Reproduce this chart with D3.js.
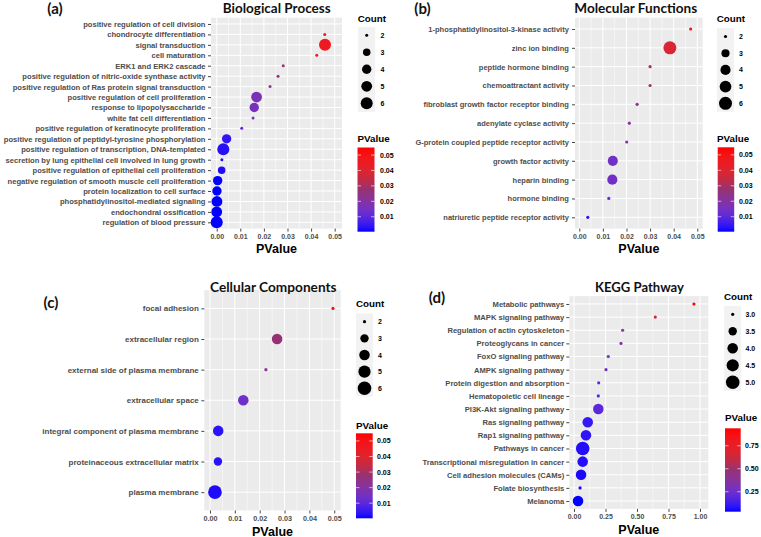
<!DOCTYPE html>
<html><head><meta charset="utf-8">
<script src="https://cdn.jsdelivr.net/npm/d3@7"></script>
<style>body{margin:0;background:#fff}svg{display:block}</style>
</head><body>
<svg id="c" width="761" height="537"></svg>
<script>
// ---------------- DATA ----------------
const bpTerms = ["positive regulation of cell division","chondrocyte differentiation","signal transduction","cell maturation","ERK1 and ERK2 cascade","positive regulation of nitric-oxide synthase activity","positive regulation of Ras protein signal transduction","positive regulation of cell proliferation","response to lipopolysaccharide","white fat cell differentiation","positive regulation of keratinocyte proliferation","positive regulation of peptidyl-tyrosine phosphorylation","positive regulation of transcription, DNA-templated","secretion by lung epithelial cell involved in lung growth","positive regulation of epithelial cell proliferation","negative regulation of smooth muscle cell proliferation","protein localization to cell surface","phosphatidylinositol-mediated signaling","endochondral ossification","regulation of blood pressure"];
const bpPValue = [null,0.0458,0.0459,0.0424,0.0282,0.0260,0.0226,0.0169,0.0159,0.0154,0.0106,0.0042,0.0028,0.0022,0.0021,0.0004,0.0001,0.0001,0.0000,0.0000];
const bpCount  = [null,2,6,2,2,2,2,5,4,2,2,4,6,2,3,4,4,5,5,6];

const mfTerms = ["1-phosphatidylinositol-3-kinase activity","zinc ion binding","peptide hormone binding","chemoattractant activity","fibroblast growth factor receptor binding","adenylate cyclase activity","G-protein coupled peptide receptor activity","growth factor activity","heparin binding","hormone binding","natriuretic peptide receptor activity"];
const mfPValue = [0.0472,0.0384,0.0300,0.0300,0.0245,0.0212,0.0201,0.0142,0.0140,0.0125,0.0036];
const mfCount  = [2,6,2,2,2,2,2,4,4,2,2];

const ccTerms = ["focal adhesion","extracellular region","external side of plasma membrane","extracellular space","integral component of plasma membrane","proteinaceous extracellular matrix","plasma membrane"];
const ccPValue = [0.0495,0.0270,0.0225,0.0134,0.0033,0.0032,0.0020];
const ccCount  = [2,4,2,4,4,3,6];

const keggTerms = ["Metabolic pathways","MAPK signaling pathway","Regulation of actin cytoskeleton","Proteoglycans in cancer","FoxO signaling pathway","AMPK signaling pathway","Protein digestion and absorption","Hematopoietic cell lineage","PI3K-Akt signaling pathway","Ras signaling pathway","Rap1 signaling pathway","Pathways in cancer","Transcriptional misregulation in cancer","Cell adhesion molecules (CAMs)","Folate biosynthesis","Melanoma"];
const keggPValue = [0.952,0.645,0.386,0.373,0.272,0.254,0.196,0.193,0.193,0.109,0.095,0.069,0.069,0.056,0.048,0.032];
const keggCount  = [3,3,3,3,3,3,3,3,4,4,4,5,4,4,3,4];

// axis / legend tick labels
const goXTicks = [0,0.01,0.02,0.03,0.04,0.05];
const keggXTicks = [0,0.25,0.5,0.75,1.0];
const goColorTicks = [0.01,0.02,0.03,0.04,0.05];
const keggColorTicks = [0.25,0.5,0.75];
const goCountBreaks = [2,3,4,5,6];
const keggCountBreaks = [3.0,3.5,4.0,4.5,5.0];
const goColorDomain = [0.0003,0.0549];
const keggColorDomain = [0.033,0.94];
// low (blue) -> high (red) gradient, as it appears in the picture
const gradStops  = [0,0.1,0.25,0.4,0.5,0.62,0.72,1];
const gradColors = ["#0000FF","#3A1CF0","#7030C8","#8A3496","#963272","#C22A46","#E0232E","#FF0000"];

// ---------------- DRAW ----------------
const svg = d3.select("#c");
svg.append("rect").attr("width",761).attr("height",537).attr("fill","#fff");
const SANS = "'Liberation Sans', Arial, sans-serif";
const TITLE = "Lato, 'Open Sans', sans-serif";

function fitText(sel, target, base) {
  const len = sel.node().getComputedTextLength();
  sel.attr("font-size", base * target / len);
}

function makeColor(domain) {
  const tt = d3.scaleLinear().domain(domain).range([0,1]).clamp(true);
  const pal = d3.scaleLinear().domain(gradStops).range(gradColors).interpolate(d3.interpolateLab);
  return v => pal(tt(v));
}

let gradId = 0;
function drawPanel(c) {
  const g = svg.append("g");
  const x = d3.scaleLinear().domain(c.xDomain).range([c.left, c.right]);
  const y = d3.scalePoint().domain(c.terms).range([c.top, c.bottom]).padding(0.6);
  const color = makeColor(c.colorDomain);
  const tc = d3.scaleLinear().domain(c.countDomain).range([0,1]).clamp(true);
  const r = v => c.rMin + (c.rMax - c.rMin) * Math.sqrt(tc(v));

  g.append("rect").attr("x",c.left).attr("y",c.top).attr("width",c.right-c.left).attr("height",c.bottom-c.top).attr("fill","#EBEBEB");
  const step = c.xTicks[1]-c.xTicks[0];
  const minors = c.xTicks.map(v=>v+step/2).concat([c.xTicks[0]-step/2]).filter(v=>v>c.xDomain[0]&&v<c.xDomain[1]);
  g.selectAll("line.mn").data(minors).join("line").attr("x1",d=>x(d)).attr("x2",d=>x(d)).attr("y1",c.top).attr("y2",c.bottom).attr("stroke","#fff").attr("stroke-width",0.5);
  g.selectAll("line.mj").data(c.xTicks).join("line").attr("x1",d=>x(d)).attr("x2",d=>x(d)).attr("y1",c.top).attr("y2",c.bottom).attr("stroke","#fff").attr("stroke-width",1);
  g.selectAll("line.hy").data(c.terms).join("line").attr("y1",d=>y(d)).attr("y2",d=>y(d)).attr("x1",c.left).attr("x2",c.right).attr("stroke","#fff").attr("stroke-width",1);

  const pts = c.terms.map((term,i)=>({term, p:c.pvals[i], n:c.counts[i]})).filter(d=>d.p!=null);
  g.selectAll("circle.pt").data(pts).join("circle").attr("cx",d=>x(d.p)).attr("cy",d=>y(d.term)).attr("r",d=>r(d.n)).attr("fill",d=>color(d.p));

  const ya = g.append("g").attr("transform",`translate(${c.left},0)`).call(d3.axisLeft(y).tickSize(3).tickPadding(c.yPad));
  ya.select(".domain").remove();
  ya.selectAll("line").attr("stroke","#333").attr("stroke-width",0.9);
  ya.attr("font-family",SANS).attr("font-size",c.catFont);
  ya.selectAll("text").attr("fill","#4D4D4D").attr("font-weight","bold");

  const xa = g.append("g").attr("transform",`translate(0,${c.bottom})`).call(d3.axisBottom(x).tickValues(c.xTicks).tickFormat(d3.format(".2f")).tickSize(3).tickPadding(2.5));
  xa.select(".domain").remove();
  xa.selectAll("line").attr("stroke","#333").attr("stroke-width",0.9);
  xa.attr("font-family",SANS).attr("font-size",c.tickFont);
  xa.selectAll("text").attr("fill","#4D4D4D").attr("font-weight","bold");

  g.append("text").attr("x",(c.left+c.right)/2).attr("y",c.axisTitleY).attr("text-anchor","middle").attr("dominant-baseline","central")
    .attr("font-family",SANS).attr("font-weight","bold").attr("font-size",12.5).attr("fill","#000").text("PValue");

  const tt = g.append("text").attr("x",c.titleX).attr("y",c.titleY).attr("text-anchor","middle").attr("dominant-baseline","central")
    .attr("font-family",TITLE).attr("font-weight","bold").attr("font-size",14).attr("fill","#111").text(c.title);
  fitText(tt, c.titleW, 14);
  g.append("text").attr("x",c.tagX).attr("y",c.tagY).attr("text-anchor","middle").attr("dominant-baseline","central")
    .attr("font-family",TITLE).attr("font-weight","bold").attr("font-size",15).attr("fill","#111").text(c.tag);

  // size legend
  const L = c.sizeLeg;
  g.append("text").attr("x",L.x).attr("y",L.titleY).attr("dominant-baseline","central").attr("font-family",SANS).attr("font-weight","bold").attr("font-size",9.8).attr("fill","#000").text("Count");
  const ky = (d,i)=>L.y0 + i*L.dy;
  g.selectAll("rect.key").data(c.countBreaks).join("rect").attr("x",L.kx-8.5).attr("y",(d,i)=>ky(d,i)-L.dy/2).attr("width",17).attr("height",L.dy).attr("fill","#F2F2F2");
  g.selectAll("circle.key").data(c.countBreaks).join("circle").attr("cx",L.kx).attr("cy",ky).attr("r",d=>r(d)).attr("fill","#000");
  g.selectAll("text.key").data(c.countBreaks).join("text").attr("x",L.lx).attr("y",ky).attr("dominant-baseline","central")
    .attr("font-family",SANS).attr("font-weight","bold").attr("font-size",7).attr("fill","#000").text(d=>c.countFmt(d));

  // colour bar
  const B = c.colorLeg;
  g.append("text").attr("x",B.x).attr("y",B.titleY).attr("dominant-baseline","central").attr("font-family",SANS).attr("font-weight","bold").attr("font-size",9.8).attr("fill","#000").text("PValue");
  const id = "grad"+(gradId++);
  const lg = svg.append("defs").append("linearGradient").attr("id",id).attr("x1",0).attr("x2",0).attr("y1",1).attr("y2",0);
  d3.range(0,1.0001,0.05).forEach(f=>{
    const v = c.colorDomain[0]+f*(c.colorDomain[1]-c.colorDomain[0]);
    lg.append("stop").attr("offset",f).attr("stop-color",color(v));
  });
  g.append("rect").attr("x",B.bx).attr("y",B.top).attr("width",B.w).attr("height",B.bottom-B.top).attr("fill",`url(#${id})`);
  const cy = d3.scaleLinear().domain(c.colorDomain).range([B.bottom,B.top]);
  c.colorTicks.forEach(v=>{
    g.append("line").attr("x1",B.bx).attr("x2",B.bx+3.5).attr("y1",cy(v)).attr("y2",cy(v)).attr("stroke","#fff").attr("stroke-width",0.6);
    g.append("line").attr("x1",B.bx+B.w-3.5).attr("x2",B.bx+B.w).attr("y1",cy(v)).attr("y2",cy(v)).attr("stroke","#fff").attr("stroke-width",0.6);
    g.append("text").attr("x",B.lx).attr("y",cy(v)).attr("dominant-baseline","central").attr("font-family",SANS).attr("font-weight","bold").attr("font-size",7).attr("fill","#000").text(d3.format(".2f")(v));
  });
}

drawPanel({terms:bpTerms,pvals:bpPValue,counts:bpCount,title:"Biological Process",tag:"(a)",
  left:211,right:342,top:17.7,bottom:228.6,xDomain:[-0.00242,0.0531],xTicks:goXTicks,
  colorDomain:goColorDomain,colorTicks:goColorTicks,countDomain:[2,6],countBreaks:goCountBreaks,countFmt:d3.format("d"),
  rMin:1.5,rMax:6.0,catFont:7.6,tickFont:7,yPad:2.5,axisTitleY:248.5,
  titleX:276.7,titleY:8,titleW:108,tagX:55,tagY:8,
  sizeLeg:{x:357.7,titleY:18.5,kx:366.7,y0:35.3,dy:17,lx:380.5},
  colorLeg:{x:357.5,titleY:138,bx:357.5,w:17,top:147.5,bottom:231.7,lx:380}});

drawPanel({terms:mfTerms,pvals:mfPValue,counts:mfCount,title:"Molecular Functions",tag:"(b)",
  left:575,right:702.7,top:17.7,bottom:228.6,xDomain:[-0.00182,0.0523],xTicks:goXTicks,
  colorDomain:goColorDomain,colorTicks:goColorTicks,countDomain:[2,6],countBreaks:goCountBreaks,countFmt:d3.format("d"),
  rMin:1.6,rMax:6.5,catFont:7.5,tickFont:7,yPad:3.2,axisTitleY:248.5,
  titleX:635.7,titleY:7.5,titleW:123,tagX:422.5,tagY:7.5,
  sizeLeg:{x:716.7,titleY:18.5,kx:725.5,y0:36.5,dy:16.7,lx:739},
  colorLeg:{x:717,titleY:138.3,bx:717.7,w:16.5,top:147.3,bottom:231.7,lx:739}});

drawPanel({terms:ccTerms,pvals:ccPValue,counts:ccCount,title:"Cellular Components",tag:"(c)",
  left:204.3,right:340.7,top:290,bottom:510.5,xDomain:[-0.00229,0.0526],xTicks:goXTicks,
  colorDomain:goColorDomain,colorTicks:goColorTicks,countDomain:[2,6],countBreaks:goCountBreaks,countFmt:d3.format("d"),
  rMin:1.6,rMax:6.8,catFont:8,tickFont:7.2,yPad:2.5,axisTitleY:531.5,
  titleX:273.3,titleY:286.5,titleW:126.7,tagX:51,tagY:301.7,
  sizeLeg:{x:356,titleY:303.3,kx:364.5,y0:321.7,dy:16.65,lx:378},
  colorLeg:{x:356,titleY:425,bx:356,w:16.7,top:433.3,bottom:518.3,lx:377}});

drawPanel({terms:keggTerms,pvals:keggPValue,counts:keggCount,title:"KEGG Pathway",tag:"(d)",
  left:569.3,right:708.3,top:296.1,bottom:508.9,xDomain:[-0.0373,1.0659],xTicks:keggXTicks,
  colorDomain:keggColorDomain,colorTicks:keggColorTicks,countDomain:[3,5],countBreaks:keggCountBreaks,countFmt:d3.format(".1f"),
  rMin:1.6,rMax:6.8,catFont:7.6,tickFont:7,yPad:2,axisTitleY:529.5,
  titleX:639.5,titleY:287,titleW:89,tagX:437,tagY:297.3,
  sizeLeg:{x:724,titleY:296.7,kx:732.7,y0:314.3,dy:17,lx:745.5},
  colorLeg:{x:725,titleY:417.7,bx:725,w:15.7,top:428.3,bottom:511.7,lx:745}});
</script>
</body></html>
